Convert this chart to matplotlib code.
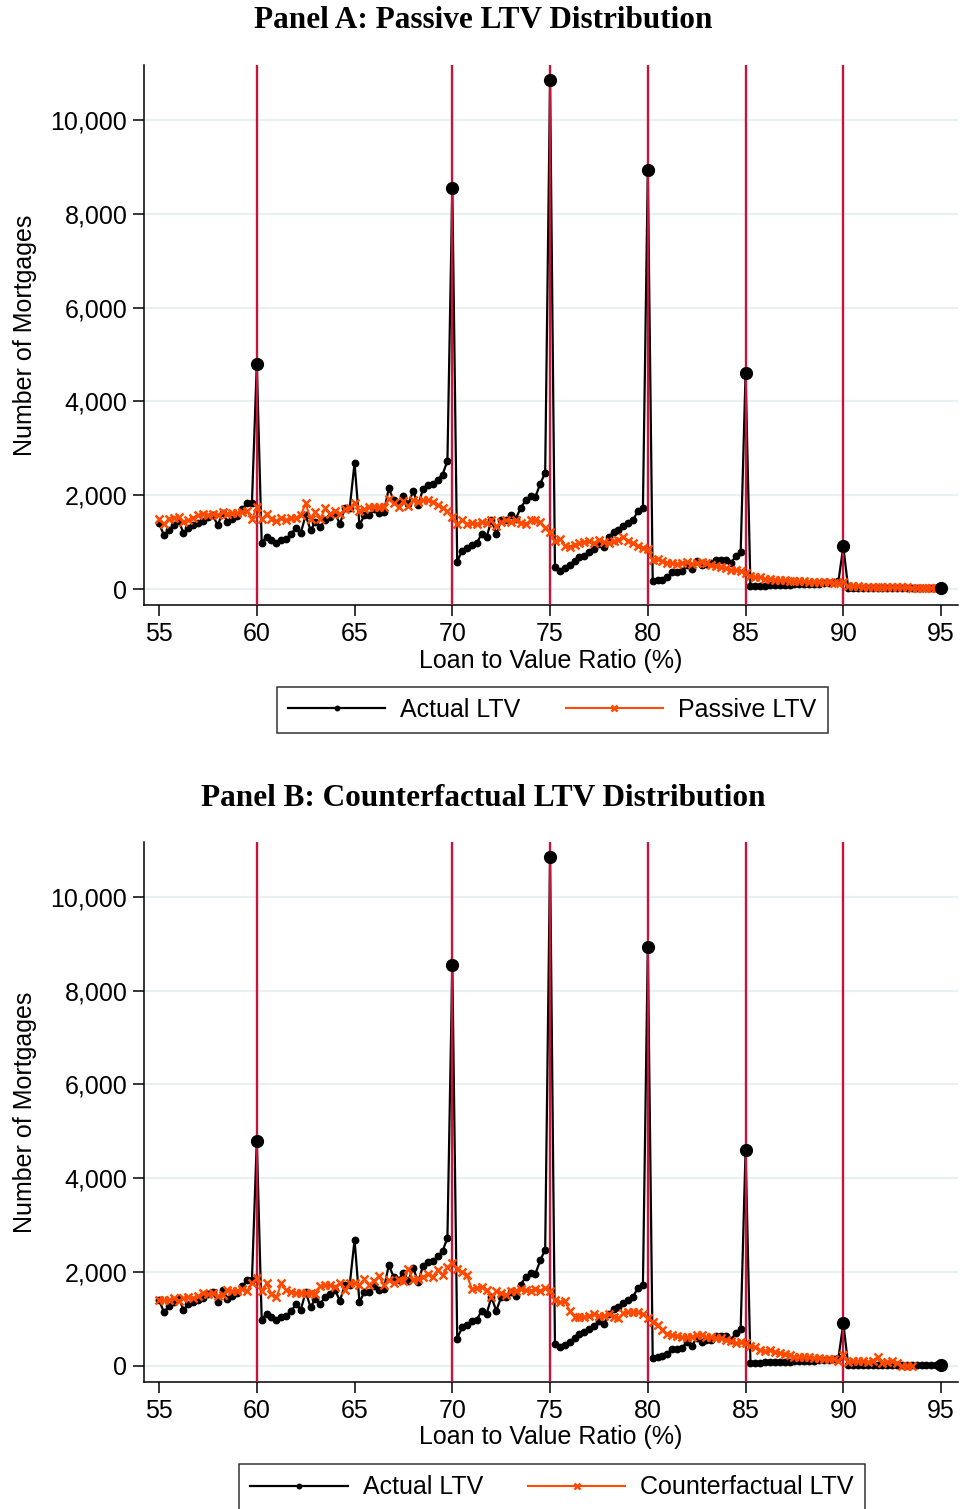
import numpy as np
import matplotlib
matplotlib.use("Agg")
import matplotlib.pyplot as plt
from matplotlib.ticker import FuncFormatter

# LTV grid: 55 to 95 in quarter-point steps
ltv = np.arange(55, 95.01, 0.25)

actual = [
    1400, 1150, 1270, 1360, 1450, 1200, 1310, 1360, 1410, 1455,
    1530, 1575, 1360, 1625, 1435, 1500, 1555, 1700, 1825, 1825,
    4800,
    990, 1115, 1045, 990, 1045, 1070, 1170, 1310, 1200, 1575,
    1255, 1435, 1330, 1470, 1540, 1625, 1385, 1720, 1720,
    2690,
    1360, 1575, 1575, 1700, 1625, 1650, 2145, 1900, 1825, 1990,
    1820, 2090, 1790, 2130, 2215, 2230, 2335, 2440, 2735,
    8550,
    585, 820, 870, 950, 980, 1180, 1105, 1465, 1180, 1465,
    1465, 1585, 1500, 1735, 1890, 1980, 1965, 2250, 2480,
    10850,
    465, 395, 450, 515, 605, 680, 715, 785, 855, 965,
    890, 1105, 1215, 1265, 1335, 1405, 1480, 1665, 1735,
    8930,
    178, 190, 205, 263, 370, 370, 390, 510, 420, 600,
    510, 545, 560, 630, 630, 630, 560, 700, 795,
    4600,
    65, 65, 70, 75, 80, 85, 80, 85, 90, 100,
    105, 105, 100, 105, 120, 135, 135, 150, 170,
    910,
    20, 15, 15, 20, 15, 20, 15, 15, 20, 15,
    20, 15, 15, 20, 15, 15, 20, 15, 20,
    25,
]

passive = [
    1485, 1385, 1505, 1525, 1540, 1435, 1470, 1525, 1575, 1600,
    1575, 1600, 1575, 1650, 1610, 1625, 1625, 1650, 1670, 1485,
    1755,
    1485, 1600, 1505, 1455, 1525, 1470, 1525, 1525, 1575, 1825,
    1485, 1650, 1505, 1720, 1610, 1670, 1600, 1700, 1720,
    1845,
    1670, 1700, 1755, 1740, 1740, 1740, 1930, 1825, 1755, 1870,
    1765, 1890, 1855, 1890, 1890, 1855, 1785, 1735, 1665,
    1535,
    1380, 1465, 1390, 1405, 1390, 1430, 1405, 1465, 1335, 1430,
    1465, 1430, 1465, 1405, 1390, 1465, 1480, 1430, 1305,
    1215,
    1020, 1070, 930, 905, 950, 980, 1000, 1020, 980, 1050,
    1000, 980, 1020, 1050, 1105, 1035, 980, 930, 880,
    855,
    620, 645, 590, 560, 555, 535, 560, 580, 545, 560,
    580, 560, 510, 490, 475, 440, 405, 405, 390,
    335,
    275, 250, 250, 225, 225, 205, 190, 190, 178, 178,
    165, 165, 155, 155, 155, 150, 150, 135, 135,
    150,
    70, 60, 60, 55, 55, 50, 50, 45, 45, 45,
    40, 40, 40, 35, 35, 35, 30, 30, 30,
    30,
]

counterfactual = [
    1415, 1400, 1400, 1440, 1390, 1440, 1475, 1440, 1490, 1560,
    1530, 1545, 1490, 1510, 1615, 1600, 1600, 1630, 1600, 1775,
    1865,
    1600, 1760, 1530, 1460, 1760, 1615, 1580, 1560, 1545, 1560,
    1545, 1530, 1700, 1725, 1725, 1690, 1760, 1615, 1760,
    1775,
    1725, 1845, 1725, 1815, 1915, 1725, 1830, 1760, 1830, 1820,
    2070, 1835, 1855, 1890, 1965, 1905, 2035, 1930, 2105,
    2190,
    2070, 2000, 1930, 1640, 1665, 1680, 1620, 1465, 1590, 1550,
    1520, 1605, 1605, 1640, 1620, 1605, 1640, 1605, 1665,
    1590,
    1405, 1355, 1390, 1180, 1050, 1035, 1050, 1070, 1105, 1070,
    1070, 1105, 1050, 1020, 1120, 1155, 1155, 1140, 1105,
    1030,
    930, 880, 760, 690, 655, 640, 610, 625, 625, 670,
    650, 625, 610, 600, 600, 555, 525, 485, 505,
    485,
    435, 400, 330, 315, 330, 290, 270, 255, 240, 200,
    200, 200, 185, 170, 170, 150, 150, 150, 100,
    240,
    80, 115, 100, 100, 80, 115, 185, 55, 80, 100,
    55, 10, 10, 10, None, None, None, None, None,
    None,
]

# bunching points (round-number LTV thresholds)
thresholds = [60, 70, 75, 80, 85, 90]
bunch_points = [60, 70, 75, 80, 85, 90, 95]

actual = np.array(actual, dtype=float)
passive = np.array(passive, dtype=float)
counterfactual = np.array(counterfactual, dtype=float)

plt.rcParams['font.family'] = ['Liberation Sans', 'DejaVu Sans']

BLACK = '#000000'
ORANGE = '#FF4A00'
RED = '#C8143C'
GRID = '#E8F0F2'

fig = plt.figure(figsize=(9.6, 15.09), dpi=100)


def panel(rect, other, other_label, title, title_y, legend_y):
    ax = fig.add_axes(rect)
    for t in thresholds:
        ax.axvline(t, color=RED, lw=1.7, zorder=3)
    ax.plot(ltv, actual, color=BLACK, lw=1.6, marker='o', ms=4.6,
            zorder=2, label='Actual LTV')
    ax.plot(ltv, other, color=ORANGE, lw=1.5, marker='x', ms=5.5, mew=1.8,
            zorder=4, label=other_label)
    idx = [int(round((p - 55) / 0.25)) for p in bunch_points]
    ax.plot(ltv[idx], actual[idx], ls='none', marker='o', ms=8.5,
            color=BLACK, zorder=5)

    ax.set_xlim(54.23, 95.87)
    ax.set_ylim(-340, 11170)
    ax.set_xticks(range(55, 96, 5))
    ax.set_yticks(range(0, 10001, 2000))
    ax.yaxis.set_major_formatter(FuncFormatter(lambda v, p: f'{int(v):,}'))
    ax.grid(axis='y', color=GRID, lw=1.6, zorder=0)
    ax.set_axisbelow(True)
    for s in ('top', 'right'):
        ax.spines[s].set_visible(False)
    for s in ('left', 'bottom'):
        ax.spines[s].set_linewidth(1.1)
    ax.tick_params(axis='both', labelsize=18, length=8, width=1.1,
                   direction='out', pad=4)
    ax.set_xlabel('Loan to Value Ratio (%)', fontsize=18, labelpad=2)
    ax.set_ylabel('Number of Mortgages', fontsize=18, labelpad=10)

    fig.text(0.503, title_y, title, ha='center', va='center',
             fontsize=22.5, fontweight='bold', family='Liberation Serif')

    leg = fig.legend(*ax.get_legend_handles_labels(), loc='upper center',
                     bbox_to_anchor=(0.575, legend_y), ncol=2, fontsize=18,
                     frameon=True, fancybox=False, edgecolor='black',
                     handlelength=3.9, handletextpad=0.6, columnspacing=1.8,
                     borderpad=0.45, borderaxespad=0, markerscale=0.7)
    leg.get_frame().set_linewidth(1.1)
    return ax


panel([0.15, 0.599, 0.848, 0.358], passive, 'Passive LTV',
      'Panel A: Passive LTV Distribution', 1 - 21 / 1509, 1 - 687 / 1509)
panel([0.15, 0.0842, 0.848, 0.358], counterfactual, 'Counterfactual LTV',
      'Panel B: Counterfactual LTV Distribution', 1 - 798 / 1509,
      1 - 1464 / 1509)

fig.savefig('out.png', dpi=100)
